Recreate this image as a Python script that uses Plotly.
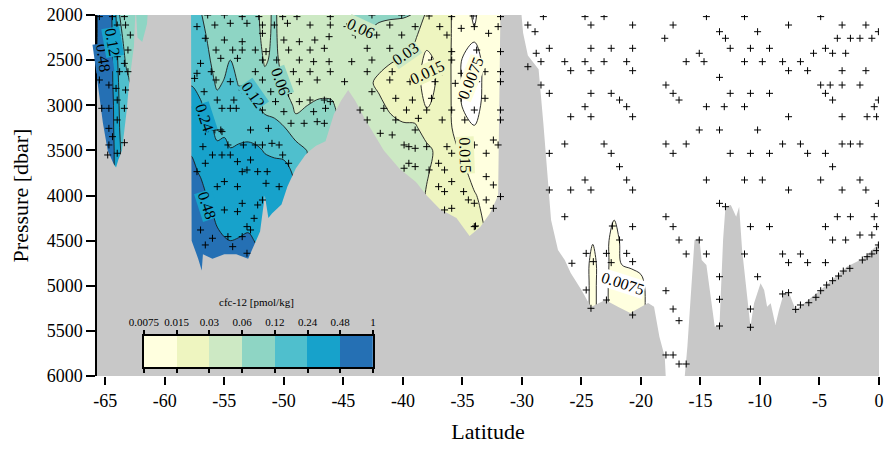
import numpy as np
import plotly.graph_objects as go

FONT = "Liberation Serif, Times New Roman, serif"

# ---------------- data ----------------
# pressure rows of the gridded section [dbar]
press_levels = [2000, 2250, 2500, 2750, 3000, 3250, 3500, 3750, 4000, 4250, 4500, 4750, 5000, 5250, 5500]

# latitude columns of the gridded section
grid_lat = [-66.0, -65.3, -64.6, -64.2, -63.8, -63.3, -62.6, -62.0,
            -57.8, -57.0, -56.0, -55.6, -55.0, -54.5, -53.8, -53.0, -52.2, -51.6, -50.8, -50.0,
            -49.0, -48.0, -47.0, -46.0, -45.0, -44.0, -43.0, -42.0, -41.0, -40.0, -39.0, -38.0,
            -37.0, -36.0, -35.0, -34.0, -33.0, -32.0, -31.3,
            -30.0, -25.0, -24.5, -24.05, -23.6, -22.9, -22.25, -21.6, -20.8, -20.0, -19.2, -18.5]

# CFC-12 profiles expressed as log2(cfc / 0.0075 pmol/kg), one list per latitude column
grid_profiles = [
    [5.5, 5.5, 5.6, 5.8, 6.0, 6.2, 6.3, 6.3, 6.3, 6.3, 6.3, 6.3, 6.3, 6.3, 6.3],
    [6.6, 6.6, 6.7, 6.8, 6.8, 6.8, 6.9, 6.9, 6.9, 6.9, 6.9, 6.9, 6.9, 6.9, 6.9],
    [6.4, 6.4, 6.4, 6.4, 6.5, 6.6, 6.6, 6.6, 6.6, 6.6, 6.6, 6.6, 6.6, 6.6, 6.6],
    [5.3, 5.5, 5.6, 5.7, 5.8, 5.8, 5.9, 5.9, 5.9, 5.9, 5.9, 5.9, 5.9, 5.9, 5.9],
    [4.0, 4.3, 4.6, 4.8, 4.9, 5.0, 5.1, 5.1, 5.1, 5.1, 5.1, 5.1, 5.1, 5.1, 5.1],
    [3.5, 3.7, 3.95, 4.2, 4.3, 4.4, 4.5, 4.5, 4.5, 4.5, 4.5, 4.5, 4.5, 4.5, 4.5],
    [3.3, 3.4, 3.6, 3.8, 3.9, 4.0, 4.0, 4.0, 4.0, 4.0, 4.0, 4.0, 4.0, 4.0, 4.0],
    [3.3, 3.3, 3.4, 3.5, 3.6, 3.7, 3.8, 3.8, 3.8, 3.8, 3.8, 3.8, 3.8, 3.8, 3.8],
    [4.6, 4.7, 4.8, 4.95, 5.3, 5.7, 5.95, 6.15, 6.3, 6.4, 6.5, 6.5, 6.5, 6.5, 6.5],
    [4.05, 4.25, 4.45, 4.7, 5.1, 5.4, 5.7, 5.95, 6.2, 6.4, 6.5, 6.5, 6.5, 6.5, 6.5],
    [3.6, 3.75, 3.9, 4.1, 4.5, 5.0, 5.3, 5.55, 5.8, 6.05, 6.3, 6.4, 6.4, 6.4, 6.4],
    [3.55, 3.65, 3.75, 3.88, 4.25, 4.8, 5.15, 5.4, 5.65, 5.9, 6.15, 6.3, 6.3, 6.3, 6.3],
    [3.5, 3.65, 3.8, 4.05, 4.4, 4.85, 5.2, 5.45, 5.65, 5.85, 6.03, 6.2, 6.2, 6.2, 6.2],
    [3.5, 3.7, 4.0, 4.3, 4.6, 4.85, 5.02, 5.3, 5.5, 5.75, 6.0, 6.2, 6.2, 6.2, 6.2],
    [3.4, 3.55, 3.7, 3.95, 4.3, 4.75, 5.1, 5.35, 5.55, 5.8, 6.03, 6.2, 6.2, 6.2, 6.2],
    [3.35, 3.5, 3.7, 3.95, 4.3, 4.75, 5.15, 5.4, 5.6, 5.85, 6.08, 6.2, 6.2, 6.2, 6.2],
    [3.05, 3.1, 3.3, 3.7, 4.02, 4.6, 5.1, 5.35, 5.55, 5.75, 5.95, 6.1, 6.1, 6.1, 6.1],
    [2.8, 2.85, 2.92, 3.2, 3.8, 4.3, 4.95, 5.3, 5.5, 5.7, 5.9, 6.0, 6.0, 6.0, 6.0],
    [3.1, 3.1, 3.15, 3.4, 3.8, 4.15, 4.9, 5.2, 5.4, 5.6, 5.8, 5.9, 5.9, 5.9, 5.9],
    [2.7, 2.75, 2.8, 2.95, 3.5, 4.05, 4.85, 5.2, 5.3, 5.4, 5.4, 5.4, 5.4, 5.4, 5.4],
    [2.6, 2.65, 2.7, 2.78, 2.82, 3.3, 4.5, 4.9, 5.0, 5.0, 5.0, 5.0, 5.0, 5.0, 5.0],
    [2.55, 2.6, 2.65, 2.75, 3.0, 3.5, 3.95, 4.2, 4.2, 4.2, 4.2, 4.2, 4.2, 4.2, 4.2],
    [2.5, 2.55, 2.6, 2.75, 3.1, 3.5, 3.8, 3.9, 3.9, 3.9, 3.9, 3.9, 3.9, 3.9, 3.9],
    [2.6, 2.55, 2.5, 2.7, 3.1, 3.4, 3.5, 3.5, 3.5, 3.5, 3.5, 3.5, 3.5, 3.5, 3.5],
    [2.9, 2.7, 2.5, 2.55, 2.7, 2.8, 2.8, 2.8, 2.8, 2.8, 2.8, 2.8, 2.8, 2.8, 2.8],
    [3.05, 2.7, 2.45, 2.4, 2.4, 2.4, 2.4, 2.4, 2.4, 2.4, 2.4, 2.4, 2.4, 2.4, 2.4],
    [3.3, 2.85, 2.3, 2.1, 2.2, 2.25, 2.3, 2.3, 2.3, 2.3, 2.3, 2.3, 2.3, 2.3, 2.3],
    [3.15, 2.7, 2.15, 1.9, 2.1, 2.2, 2.2, 2.2, 2.2, 2.2, 2.2, 2.2, 2.2, 2.2, 2.2],
    [3.1, 2.6, 2.05, 1.7, 1.9, 2.15, 2.2, 2.2, 2.2, 2.2, 2.2, 2.2, 2.2, 2.2, 2.2],
    [3.1, 2.4, 1.95, 1.6, 1.7, 2.1, 2.2, 2.25, 2.25, 2.25, 2.25, 2.25, 2.25, 2.25, 2.25],
    [2.95, 2.1, 1.6, 1.4, 1.6, 2.1, 2.3, 2.3, 2.3, 2.3, 2.3, 2.3, 2.3, 2.3, 2.3],
    [1.8, 1.4, 0.7, 0.6, 0.9, 1.7, 2.15, 2.05, 1.95, 1.9, 1.9, 1.9, 1.9, 1.9, 1.9],
    [1.6, 1.4, 1.2, 1.15, 1.3, 1.6, 1.85, 1.8, 1.6, 1.5, 1.5, 1.5, 1.5, 1.5, 1.5],
    [1.05, 1.05, 1.04, 1.05, 1.06, 1.1, 1.2, 1.3, 1.3, 1.25, 1.25, 1.25, 1.25, 1.25, 1.25],
    [0.3, 0.3, -0.05, -0.1, -0.05, 0.3, 0.9, 1.15, 1.3, 1.3, 1.3, 1.3, 1.3, 1.3, 1.3],
    [-0.1, 0.1, -0.4, -0.5, -0.4, 0.05, 0.5, 0.8, 1.05, 1.2, 1.25, 1.25, 1.25, 1.25, 1.25],
    [0.4, 0.35, 0.3, 0.3, 0.35, 0.5, 0.6, 0.7, 0.8, 0.9, 1.0, 1.0, 1.0, 1.0, 1.0],
    [0.5, 0.5, 0.5, 0.5, 0.5, 0.5, 0.5, 0.5, 0.5, 0.5, 0.5, 0.5, 0.5, 0.5, 0.5],
    [0.5, 0.5, 0.5, 0.5, 0.5, 0.5, 0.5, 0.5, 0.5, 0.5, 0.5, 0.5, 0.5, 0.5, 0.5],
    [-2, -2, -2, -2, -2, -2, -2, -2, -2, -2, -2, -2, -2, -2, -2],
    [-2, -2, -2, -2, -2, -2, -2, -2, -2, -2, -2, -2, -2, -2, -2],
    [-2, -2, -2, -2, -2, -2, -2, -2, -2, -1, -0.5, -0.5, -0.5, -0.5, -0.5],
    [-2, -2, -2, -2, -2, -2, -2, -2, -2, -1, -0.2, 1.0, 1.0, 1.0, 1.0],
    [-2, -2, -2, -2, -2, -2, -2, -2, -2, -1, -0.5, -0.5, -0.5, -0.5, -0.5],
    [-2, -2, -2, -2, -2, -2, -2, -2, -2, -1, -0.5, -0.5, -0.3, -0.3, -0.3],
    [-2, -2, -2, -2, -2, -2, -2, -2, -1, -0.1, 1.0, 1.0, 1.0, 1.0, 1.0],
    [-2, -2, -2, -2, -2, -2, -2, -2, -1, -0.8, -0.5, -0.1, 0.8, 0.8, 0.8],
    [-2, -2, -2, -2, -2, -2, -2, -2, -1, -1, -0.8, -0.2, 0.6, 0.6, 0.6],
    [-2, -2, -2, -2, -2, -2, -2, -2, -1, -1, -1, -0.3, 0.3, 0.4, 0.4],
    [-2, -2, -2, -2, -2, -2, -2, -2, -1, -1, -1, -0.5, -0.5, -0.5, -0.5],
    [-2, -2, -2, -2, -2, -2, -2, -2, -2, -2, -2, -2, -2, -2, -2],
]

level_labels = ["0.0075", "0.015", "0.03", "0.06", "0.12", "0.24", "0.48", "1"]
band_colors = ["#ffffdf", "#eef5c0", "#cde9c4", "#8ed5c4", "#4fbfcd", "#17a2cb", "#2570b4"]

# axis ticks
lat_ticks = [-65, -60, -55, -50, -45, -40, -35, -30, -25, -20, -15, -10, -5, 0]
lat_tick_text = ["-65", "-60", "-55", "-50", "-45", "-40", "-35", "-30", "-25", "-20", "-15", "-10", "-5", "0"]
p_ticks = [2000, 2500, 3000, 3500, 4000, 4500, 5000, 5500, 6000]

# bottom topography (latitude, pressure of sea floor)
bathy_lat = [-66.0, -65.7, -65.2, -64.8, -64.3, -64.1, -63.9, -63.6, -63.2, -63.0, -62.6, -62.45, -62.3,
             -61.9, -61.5, -61.4, -57.8, -57.75, -57.2, -56.9, -56.8, -56.0, -55.0, -54.0, -53.0, -52.5,
             -52.0, -51.6, -51.3, -51.0, -50.2, -49.7, -49.0, -48.2, -47.8, -47.3, -46.5, -45.8, -45.2,
             -44.6, -44.0, -43.2, -42.5, -41.6, -40.3, -38.9, -38.0, -36.9, -35.5, -34.4, -33.5, -32.7,
             -32.0, -31.8, -30.1, -29.9, -29.5, -28.6, -28.2, -27.9, -27.55, -26.97, -26.4, -25.9, -25.0,
             -24.2, -23.0, -21.9, -20.9, -19.4, -18.9, -18.45, -18.0, -17.9, -16.35, -16.1, -15.8, -15.5,
             -15.1, -14.9, -14.5, -14.1, -13.8, -13.4, -13.1, -12.9, -12.45, -12.0, -11.75, -11.5, -11.05,
             -10.8, -10.5, -9.95, -9.65, -9.4, -9.1, -8.7, -8.4, -8.0, -7.6, -7.0, -4.9, -2.7, -1.3, 0.0]
bathy_p = [2500, 2700, 3200, 3500, 3650, 3690, 3600, 3500, 3050, 2750, 2350, 1900, 2250,
           2300, 2100, 1900, 1900, 4500, 4700, 4830, 4650, 4700, 4650, 4650, 4700, 4550,
           4400, 4000, 4250, 4200, 4100, 3900, 3700, 3550, 3500, 3450, 3400, 3100, 2950,
           2830, 2950, 3150, 3300, 3500, 3700, 3850, 4000, 4150, 4250, 4450, 4350, 4200,
           4000, 1900, 1900, 2200, 2450, 2600, 3200, 3700, 4271, 4604, 4715, 4860, 5047,
           5235, 5158, 5235, 5302, 5190, 5232, 5565, 5786, 6050, 6050, 5675, 5047, 4493,
           4475, 4715, 4770, 5158, 5454, 5435, 4493, 4124, 4105, 4235, 4124, 4604, 5158,
           5454, 5195, 4973, 5047, 5232, 5195, 5435, 5269, 5084, 5066, 5269, 5047, 4789, 4696, 4530]

# bottle samples (latitude, pressure)
bottle_lat = [
    -65.5, -64.4, -63.4, -64.0, -63.3, -64.0, -62.9, -63.1, -64.0, -63.4, -63.8, -63.1, -65.5, -64.7,
    -64.1, -63.3, -64.0, -65.3, -64.7, -63.4, -64.0, -64.7, -64.4, -64.7, -63.4, -64.8, -64.0,
    -56.4, -55.0, -53.5, -52.1, -50.1, -48.9, -46.1,
    -57.3, -55.8, -54.5, -53.1, -51.8, -50.8, -49.7, -47.8, -46.1,
    -56.6, -55.0, -53.5, -51.8, -50.0, -48.7, -47.4, -46.2,
    -55.7, -54.3, -53.5, -52.4, -51.5, -49.6, -47.8, -46.6,
    -57.0, -55.3, -53.9, -51.8, -50.6, -48.7, -47.5, -46.2,
    -57.3, -56.1, -52.4, -49.2, -47.8, -46.1,
    -57.5, -55.7, -54.5, -51.8, -50.0, -48.7, -47.2,
    -56.7, -53.5, -51.1, -49.6, -47.8, -46.6,
    -55.6, -54.2, -52.8, -50.7, -48.7, -46.1,
    -55.2, -54.5, -54.0, -51.8, -50.0, -47.5,
    -55.8, -55.3, -52.8, -51.3, -49.4, -48.3, -47.2,
    -56.6, -55.2, -54.7, -53.4, -52.4, -51.8, -51.0, -50.4, -56.8, -56.0, -55.2, -54.5, -53.9, -52.8,
    -50.1, -49.6, -56.6, -53.5, -53.1, -52.2, -51.4, -57.3, -55.0, -51.5, -55.6, -53.9, -50.4, -53.5,
    -52.2, -51.8, -55.0, -53.9, -52.5, -57.0, -53.1, -52.8, -56.0, -54.7, -53.5, -56.6, -54.3, -53.1,
    -42.6, -40.1, -37.8, -35.9, -34.1, -31.8,
    -44.7, -41.1, -38.97, -36.9, -35.1, -34.0, -32.0,
    -44.0, -42.2, -40.1, -36.3, -32.8,
    -43.0, -41.1, -39.4, -35.9, -33.8, -31.8,
    -44.3, -42.6, -37.6, -35.9, -33.7,
    -43.0, -40.9, -38.5, -36.7, -35.1, -33.1, -31.8,
    -44.9, -41.1, -39.4, -37.3, -35.6, -33.8, -31.8,
    -42.6, -40.6, -39.2, -37.6, -35.1, -33.1,
    -46.5, -43.6, -41.6, -39.7, -38.0, -35.9, -34.0, -31.8,
    -43.0, -40.6, -38.7, -36.7, -34.8, -31.8,
    -46.6, -41.9, -40.9, -38.97, -39.9, -39.5, -38.97, -38.0, -36.3, -34.0, -32.4, -32.0,
    -35.9, -33.0, -39.5, -38.97, -37.0, -36.5, -34.9, -39.9, -37.8, -35.9, -33.0, -32.4,
    -37.0, -36.5, -34.9, -31.8, -34.5, -34.0, -33.0, -35.9, -36.5, -32.4, -34.0, -33.9,
    -28.2, -24.7, -23.1, -14.5, -11.3, -4.9,
    -29.5, -24.2, -20.7, -17.3, -7.6, -3.1, -1.1,
    -28.9, -18.0, -13.4, -12.9, -10.2, -3.5, -2.4, -1.6, -0.6, -0.05,
    -28.8, -27.7, -24.2, -22.5, -20.7, -15.1, -12.5, -10.8, -9.2, -5.5, -4.5, -3.9, -2.8,
    -29.5, -28.4, -26.4, -24.7, -23.1, -21.2, -16.2, -14.7, -11.3, -9.8, -8.1, -6.6,
    -25.9, -24.2, -20.7, -7.6, -6.0, -3.1, -1.1,
    -13.4,
    -28.4, -17.9, -4.9, -4.1, -3.1, -1.6,
    -27.7, -24.2, -22.5, -17.3, -12.5, -10.8, -9.2, -4.5,
    -21.8, -16.8, -3.9, -0.05,
    -24.7, -21.2, -14.5, -13.0, -11.3, -0.4,
    -25.9, -24.2, -20.7, -7.6, -3.1, -1.0, -0.2,
    -15.1, -13.4, -10.2,
    -26.4, -23.1, -17.9, -16.2, -8.1, -6.6, -3.1, -2.4, -1.6,
    -27.7, -22.5, -17.3, -12.5, -10.8, -9.2, -6.0, -4.5,
    -21.8, -3.9,
    -24.7, -21.2, -14.5, -11.3, -9.8, -4.9, -1.6,
    -27.7, -25.9, -24.2, -20.7, -7.6, -3.1, -1.1,
    -13.4, -12.9, -0.05,
    -26.4, -17.9, -3.5, -2.4, -0.4,
    -22.4, -20.7, -17.3, -10.8, -9.2, -4.5, -0.2,
    -21.8, -16.8, -15.1, -3.9, -2.8, -1.6, -0.6,
    -24.6, -22.9, -21.2, -16.2, -14.5, -11.3, -8.1, -6.6,
    -25.8, -24.0, -22.5, -20.7, -7.6, -6.0, -4.5,
    -13.4, -10.2, -22.9,
    -24.6, -17.9, -8.1, -7.6,
    -22.9, -13.4,
    -24.2, -17.3, -10.8,
    -20.7, -16.8,
    -13.4, -10.8,
    -17.9, -17.3, -16.8, -16.2,
    -7.0, -6.6, -5.9, -5.3, -4.9, -4.4, -3.9, -3.4, -3.0, -2.45, -1.4, -1.0, -0.6, -0.2, -0.05,
]
bottle_p = [
    2018, 2018, 2018, 2111, 2111, 2222, 2222, 2388, 2462, 2536, 2628, 2628, 2720, 2776,
    2813, 2831, 2942, 3034, 3034, 3034, 3163, 3256, 3348, 3440, 3415, 3551, 3532,
    2000, 2000, 2018, 2018, 2018, 2018, 2018,
    2129, 2111, 2092, 2092, 2111, 2111, 2092, 2111, 2111,
    2258, 2277, 2296, 2203, 2277, 2296, 2277, 2240,
    2388, 2388, 2388, 2388, 2406, 2388, 2388, 2369,
    2536, 2480, 2480, 2499, 2499, 2499, 2517, 2517,
    2646, 2628, 2628, 2628, 2628, 2628,
    2702, 2720, 2739, 2720, 2720, 2739, 2720,
    2850, 2831, 2850, 2868, 2942, 2942,
    2942, 2942, 2942, 2960, 2960, 2960,
    3034, 3034, 3034, 3053, 3071, 3071,
    3274, 3274, 3274, 3256, 3200, 3200, 3182,
    3292, 3292, 3440, 3440, 3440, 3440, 3422, 3440, 3459, 3551, 3551, 3551, 3625, 3606,
    3551, 3643, 3643, 3736, 3717, 3736, 3736, 3736, 3846, 3865, 3902, 3902, 3902, 4087,
    4105, 4050, 4160, 4179, 4253, 4382, 4345, 4382, 4474, 4456, 4456, 4548, 4567, 4640,
    2000, 2000, 2011, 2018, 2011, 2018,
    2129, 2111, 2129, 2129, 2148, 2129, 2129,
    2222, 2222, 2222, 2222, 2203,
    2369, 2369, 2425, 2406, 2388, 2406,
    2517, 2499, 2499, 2499, 2517,
    2628, 2628, 2628, 2628, 2646, 2628, 2628,
    2739, 2720, 2739, 2739, 2757, 2739, 2739,
    2850, 2923, 2942, 2923, 2923, 2923,
    3034, 3053, 3034, 3053, 3053, 3053, 3053, 3053,
    3163, 3163, 3145, 3163, 3163, 3163,
    3200, 3311, 3329, 3274, 3440, 3459, 3477, 3459, 3459, 3440, 3385, 3440,
    3532, 3532, 3643, 3680, 3643, 3717, 3698, 3698, 3717, 3846, 3791, 3883,
    3902, 3957, 3957, 4012, 4049, 4086, 4049, 4142, 4160, 4142, 4345, 4338,
    2018, 2018, 2018, 2018, 2018, 2018,
    2111, 2111, 2111, 2111, 2111, 2111, 2111,
    2185, 2258, 2185, 2258, 2185, 2258, 2258, 2258, 2258, 2185,
    2424, 2369, 2369, 2369, 2369, 2424, 2369, 2369, 2369, 2424, 2369, 2424, 2424,
    2573, 2517, 2517, 2517, 2517, 2517, 2517, 2517, 2517, 2517, 2517, 2517,
    2617, 2617, 2617, 2617, 2617, 2617, 2617,
    2691,
    2776, 2776, 2776, 2776, 2776, 2776,
    2868, 2868, 2868, 2868, 2868, 2868, 2868, 2868,
    2942, 2942, 2942, 2942,
    3016, 3016, 3016, 3016, 3016, 3016,
    3127, 3127, 3127, 3127, 3127, 3127, 3127,
    3274, 3274, 3274,
    3429, 3429, 3429, 3429, 3429, 3429, 3429, 3429, 3429,
    3533, 3533, 3533, 3533, 3533, 3533, 3533, 3533,
    3681, 3681,
    3828, 3828, 3828, 3828, 3828, 3828, 3828,
    3939, 3939, 3939, 3939, 3939, 3939, 3939,
    4087, 4124, 4087,
    4235, 4235, 4235, 4235, 4235,
    4338, 4345, 4345, 4345, 4345, 4345, 4345,
    4493, 4493, 4493, 4493, 4493, 4438, 4438,
    4641, 4641, 4641, 4648, 4648, 4648, 4648, 4648,
    4751, 4733, 4744, 4733, 4744, 4744, 4744,
    4900, 4900, 4955,
    5047, 5055, 5091, 5077,
    5158, 5150,
    5250, 5258, 5258,
    5324, 5387,
    5446, 5460,
    5767, 5767, 5867, 5867,
    5262, 5213, 5188, 5128, 5055, 4992, 4944, 4892, 4837, 4807, 4715, 4678, 4648, 4611, 4548,
]

# contour labels as printed on the section (with the band colour they sit in)
label_text = ["0.48", "0.12", "0.24", "0.48", "0.12", "0.06", "0.06", "0.03", "0.015", "0.0075", "0.015", "0.0075"]
label_lat = [-65.2, -64.35, -56.7, -56.5, -52.6, -50.3, -43.5, -39.8, -38.0, -34.25, -34.8, -21.5]
label_p = [2476, 2300, 3141, 4105, 2886, 2742, 2144, 2421, 2632, 2698, 3551, 4970]
label_angle = [82, 80, 72, 72, 55, 70, 25, -35, -25, -68, 88, 18]
label_band = [6, 5, 5, 5, 4, 3, 2, 2, 1, 0, 1, -1]

# ---------------- figure ----------------
z = np.array(grid_profiles).T

n_bands = len(band_colors)
contour_scale = [[0.0, "#ffffff"]] + [[(k + 1) / n_bands, c] for k, c in enumerate(band_colors)]

fig = go.Figure()

fig.add_trace(go.Contour(
    x=grid_lat, y=press_levels, z=z,
    autocontour=False,
    contours=dict(start=0, end=n_bands - 1, size=1, coloring="fill", showlines=True),
    line=dict(color="#1a1a1a", width=0.9, smoothing=1),
    colorscale=contour_scale, showscale=False, hoverinfo="skip",
))

poly_x = bathy_lat + [bathy_lat[-1], bathy_lat[0]]
poly_y = bathy_p + [6100, 6100]
fig.add_trace(go.Scatter(
    x=poly_x, y=poly_y, mode="lines", fill="toself", fillcolor="#c8c8c8",
    line=dict(width=0, color="#c8c8c8"), hoverinfo="skip", showlegend=False,
))

fig.add_trace(go.Scatter(
    x=bottle_lat, y=bottle_p, mode="markers",
    marker=dict(symbol="cross-thin", size=5, color="black", line=dict(color="black", width=1)),
    hoverinfo="skip", showlegend=False,
))

# colour key drawn as a small heatmap inside the section
band_scale = [[k / (n_bands - 1), c] for k, c in enumerate(band_colors)]
fig.add_trace(go.Heatmap(
    z=[list(range(n_bands))], x0=0.5, dx=1, y0=0, dy=1,
    colorscale=band_scale, zmin=0, zmax=n_bands - 1, showscale=False,
    xaxis="x2", yaxis="y2", hoverinfo="skip",
))

annotations = []
for t, la, p, a, b in zip(label_text, label_lat, label_p, label_angle, label_band):
    bg = "#ffffff" if b < 0 else band_colors[b]
    annotations.append(dict(x=la, y=p, xref="x", yref="y", text=t, showarrow=False,
                            textangle=a, bgcolor=bg, borderpad=0,
                            font=dict(family=FONT, size=16, color="black")))
annotations.append(dict(x=0.2038, y=0.205, xref="paper", yref="paper", text="cfc-12 [pmol/kg]",
                        showarrow=False, xanchor="center", yanchor="middle",
                        font=dict(family=FONT, size=11, color="black")))

fig.update_layout(
    width=889, height=450,
    margin=dict(l=97, r=7, t=15, b=74),
    paper_bgcolor="white", plot_bgcolor="white",
    showlegend=False,
    font=dict(family=FONT, color="black"),
    annotations=annotations,
    xaxis=dict(
        range=[-65.7, 0], tickvals=lat_ticks, ticktext=lat_tick_text,
        ticks="outside", ticklen=8, tickwidth=1.8, tickcolor="black",
        showline=False, showgrid=False, zeroline=False,
        tickfont=dict(family=FONT, size=18, color="black"),
        title=dict(text="Latitude", font=dict(family=FONT, size=22, color="black"), standoff=14),
        automargin=False,
    ),
    yaxis=dict(
        range=[6000, 2000], tickvals=p_ticks,
        ticks="outside", ticklen=9, tickwidth=1.6, tickcolor="black",
        showline=True, linewidth=1.5, linecolor="black",
        showgrid=False, zeroline=False,
        tickfont=dict(family=FONT, size=18, color="black"),
        title=dict(text="Pressure [dbar]", font=dict(family=FONT, size=22, color="black"), standoff=12),
        automargin=False,
    ),
    xaxis2=dict(
        domain=[0.0599, 0.3529], anchor="y2", range=[0, n_bands],
        tickvals=list(range(n_bands + 1)), ticktext=level_labels, side="top",
        ticks="outside", ticklen=4, tickwidth=1.5, tickcolor="black",
        showline=True, linewidth=2, linecolor="black", mirror="ticks",
        showgrid=False, zeroline=False, fixedrange=True,
        tickfont=dict(family=FONT, size=11, color="black"),
    ),
    yaxis2=dict(
        domain=[0.0249, 0.1108], anchor="x2", range=[-0.5, 0.5],
        showticklabels=False, ticks="", showline=True, linewidth=2, linecolor="black",
        mirror=True, showgrid=False, zeroline=False, fixedrange=True,
    ),
)

fig.write_html("out.html", config={"displayModeBar": False},
               post_script="document.body.style.margin='0';document.body.style.overflow='hidden';")
